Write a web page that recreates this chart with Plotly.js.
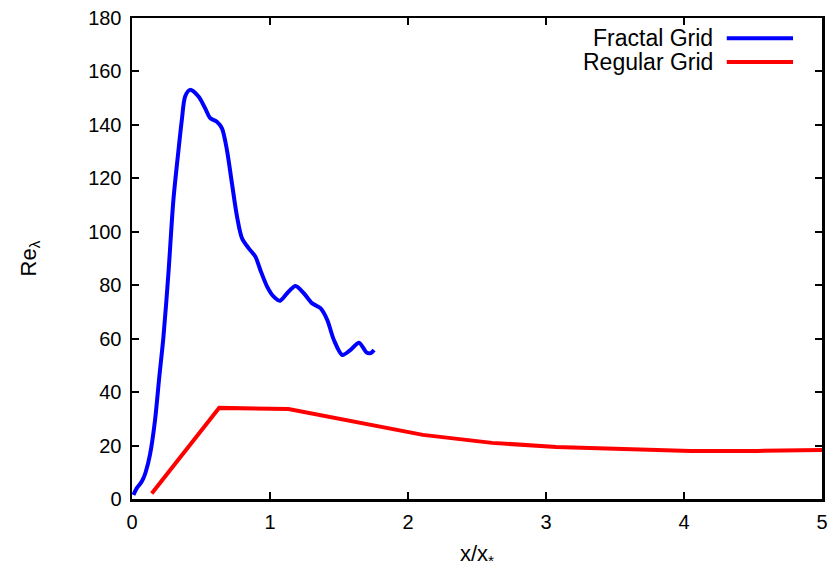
<!DOCTYPE html>
<html>
<head>
<meta charset="utf-8">
<script src="https://cdn.plot.ly/plotly-3.0.1.min.js"></script>
<style>html,body{margin:0;padding:0;background:#fff;}#chart{width:840px;height:569px;}</style>
</head>
<body>
<div id="chart"></div>
<script>
// Fractal grid
const fractalX = [0.01, 0.034, 0.063, 0.082, 0.10, 0.13, 0.167, 0.198, 0.228, 0.264, 0.300, 0.337, 0.361, 0.385, 0.42, 0.482, 0.53, 0.567, 0.615, 0.652, 0.688, 0.724, 0.761, 0.797, 0.846, 0.894, 0.93, 0.979, 1.027, 1.071, 1.124, 1.185, 1.245, 1.306, 1.366, 1.415, 1.463, 1.524, 1.584, 1.645, 1.70, 1.73, 1.754];
const fractalY = [1.5, 4.0, 5.9, 7.7, 10.2, 16.5, 29.6, 45.8, 60.7, 84.5, 111.9, 130.6, 141.8, 150.6, 153.1, 150.6, 146.2, 142.5, 141.2, 138.7, 130.6, 118.2, 105.7, 97.6, 93.8, 90.7, 85.7, 79.5, 75.7, 74.2, 77.0, 79.7, 77.0, 73.2, 71.4, 67.0, 59.5, 53.9, 55.8, 58.5, 54.8, 54.6, 55.8];
// Regular grid
const regularX = [0.143, 0.632, 1.134, 1.657, 2.108, 2.609, 3.074, 3.561, 4.048, 4.535, 5.0];
const regularY = [2.1, 34.1, 33.7, 28.4, 24.0, 21.0, 19.5, 18.7, 18.0, 18.0, 18.3];
const seriesNames = ["Fractal Grid", "Regular Grid"];
const xTicks = [0, 1, 2, 3, 4, 5];
const yTicks = [0, 20, 40, 60, 80, 100, 120, 140, 160, 180];

const font = {family: "Liberation Sans, Arial, sans-serif", size: 20, color: "#000"};
const titleFont = {family: "Liberation Sans, Arial, sans-serif", size: 22, color: "#000"};
const legendFont = {family: "Liberation Sans, Arial, sans-serif", size: 23, color: "#000"};

const traces = [
  {x: fractalX, y: fractalY, name: seriesNames[0], mode: "lines", type: "scatter",
   line: {color: "#0000ff", width: 4, shape: "spline", smoothing: 0.8}, showlegend: false},
  {x: regularX, y: regularY, name: seriesNames[1], mode: "lines", type: "scatter",
   line: {color: "#ff0000", width: 4}, showlegend: false}
];

const axisCommon = {
  showline: true, linecolor: "#000", linewidth: 2.5, mirror: "allticks",
  ticks: "inside", ticklen: 7, tickwidth: 2, tickcolor: "#000",
  showgrid: false, zeroline: false, tickfont: font
};

const layout = {
  width: 840, height: 569,
  margin: {l: 132, r: 18, t: 18, b: 70},
  paper_bgcolor: "#fff", plot_bgcolor: "#fff",
  font: font,
  xaxis: Object.assign({}, axisCommon, {range: [0, 5], tickvals: xTicks, ticktext: xTicks.map(String),
    ticklabelstandoff: 3,
    title: {text: "x/x<sub>*</sub>", font: titleFont, standoff: 18}}),
  yaxis: Object.assign({}, axisCommon, {range: [0, 180], tickvals: yTicks, ticktext: yTicks.map(String),
    ticklabelstandoff: 4,
    title: {text: "Re<sub>λ</sub>", font: titleFont, standoff: 46}}),
  annotations: [
    {xref: "paper", yref: "paper", x: 0.845, y: 0.958, xanchor: "right", yanchor: "middle",
     text: seriesNames[0], showarrow: false, font: legendFont},
    {xref: "paper", yref: "paper", x: 0.845, y: 0.9085, xanchor: "right", yanchor: "middle",
     text: seriesNames[1], showarrow: false, font: legendFont}
  ],
  shapes: [
    {type: "line", xref: "paper", yref: "paper", x0: 0.862, x1: 0.958, y0: 0.958, y1: 0.958,
     line: {color: "#0000ff", width: 4}},
    {type: "line", xref: "paper", yref: "paper", x0: 0.862, x1: 0.958, y0: 0.9085, y1: 0.9085,
     line: {color: "#ff0000", width: 4}}
  ]
};

Plotly.newPlot("chart", traces, layout, {displayModeBar: false, staticPlot: true});
</script>
</body>
</html>
